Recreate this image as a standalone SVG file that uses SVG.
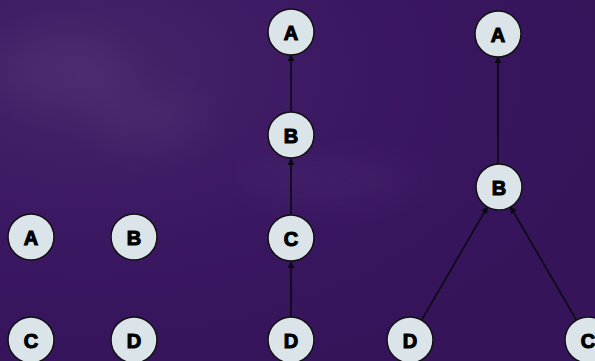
<svg xmlns="http://www.w3.org/2000/svg" width="595" height="361" viewBox="0 0 595 361">
<defs>
<radialGradient id="bg" cx="0.15" cy="0.2" r="0.9">
<stop offset="0" stop-color="#46256a"/>
<stop offset="0.5" stop-color="#3b1862"/>
<stop offset="1" stop-color="#35145a"/>
</radialGradient>
<filter id="blur" x="-50%" y="-50%" width="200%" height="200%"><feGaussianBlur stdDeviation="18"/></filter>
<marker id="arr" viewBox="0 0 10 10" refX="9" refY="5" markerWidth="7" markerHeight="7" markerUnits="userSpaceOnUse" orient="auto">
<path d="M0,0 L10,5 L0,10 z" fill="#0a0a12"/>
</marker>
<style>
.n circle{fill:#dbe4e8;stroke:#111;stroke-width:1.5}
.n text{font-family:"Liberation Sans",Arial,sans-serif;font-weight:bold;font-size:20px;fill:#000;stroke:#000;stroke-width:1.1;text-anchor:middle;dominant-baseline:central}
.e line{stroke:#0a0a12;stroke-width:1.6;marker-end:url(#arr)}
</style>
</defs>
<rect width="595" height="361" fill="url(#bg)"/>
<g opacity="0.12" fill="#7a5a9a" filter="url(#blur)">
<ellipse cx="60" cy="70" rx="70" ry="40"/>
<ellipse cx="150" cy="120" rx="60" ry="30"/>
<ellipse cx="330" cy="180" rx="90" ry="20"/>
</g>
<g id="connectors" class="e">
<line x1="291" y1="112" x2="291" y2="55"/>
<line x1="291" y1="215" x2="291" y2="159"/>
<line x1="291" y1="317" x2="291" y2="262"/>
<line x1="498" y1="164" x2="498" y2="57"/>
<line x1="421.6" y1="320.1" x2="487.4" y2="206.9"/>
<line x1="576.4" y1="320.1" x2="510.6" y2="206.9"/>
</g>
<g id="n1A" class="n"><circle cx="31" cy="237" r="23"/><text x="31" y="238">A</text></g>
<g id="n1B" class="n"><circle cx="134" cy="237" r="23"/><text x="134" y="238">B</text></g>
<g id="n1C" class="n"><circle cx="31" cy="340" r="23"/><text x="31" y="341">C</text></g>
<g id="n1D" class="n"><circle cx="134" cy="340" r="23"/><text x="134" y="341">D</text></g>
<g id="n2A" class="n"><circle cx="291" cy="32" r="23"/><text x="291" y="33">A</text></g>
<g id="n2B" class="n"><circle cx="291" cy="135" r="23"/><text x="291" y="136">B</text></g>
<g id="n2C" class="n"><circle cx="291" cy="238" r="23"/><text x="291" y="239">C</text></g>
<g id="n2D" class="n"><circle cx="291" cy="340" r="23"/><text x="291" y="341">D</text></g>
<g id="n3A" class="n"><circle cx="498" cy="34" r="23"/><text x="498" y="35">A</text></g>
<g id="n3B" class="n"><circle cx="499" cy="187" r="23"/><text x="499" y="188">B</text></g>
<g id="n3D" class="n"><circle cx="410" cy="340" r="23"/><text x="410" y="341">D</text></g>
<g id="n3C" class="n"><circle cx="588" cy="340" r="23"/><text x="588" y="341">C</text></g>
</svg>
